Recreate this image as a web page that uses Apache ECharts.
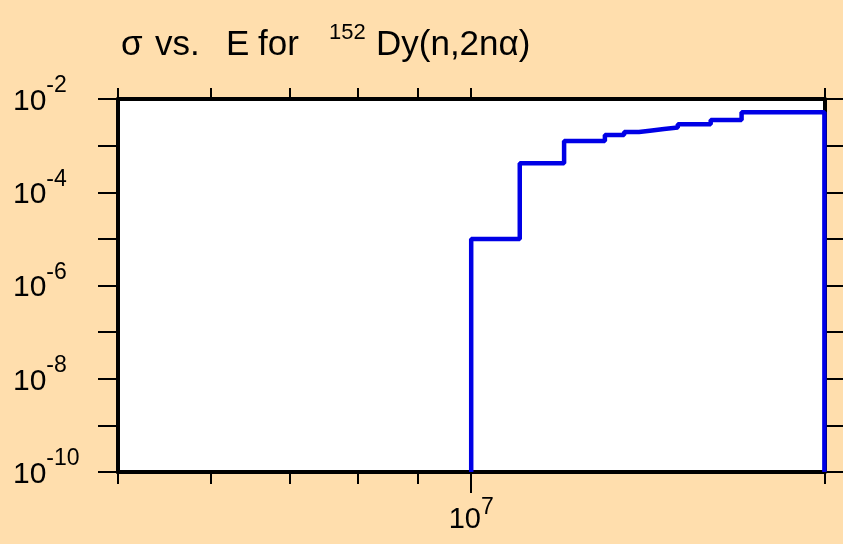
<!DOCTYPE html>
<html>
<head>
<meta charset="utf-8">
<script src="https://cdn.jsdelivr.net/npm/echarts@6/dist/echarts.min.js"></script>
<style>
html,body{margin:0;padding:0;background:#FFDEAD;}
#chart{width:843px;height:544px;}
</style>
</head>
<body>
<div id="chart"></div>
<script>
// Bin edges (eV) and cross sections (b) of the step histogram
const energyEdges = [1.0e7, 1.1e7, 1.2e7, 1.3e7, 1.35e7, 1.39e7, 1.42e7, 1.46e7, 1.5e7, 1.6e7, 1.7e7, 2.0e7];
const sigmaValues = [1.0e-5, 4.2e-4, 1.26e-3, 1.69e-3, 1.95e-3, 2.09e-3, 2.27e-3, 2.44e-3, 2.86e-3, 3.55e-3, 5.2e-3];

// Axis ranges and ticks
const xRange = [5e6, 2e7];
const yRange = [1e-10, 1e-2];
const xMinorTicks = [5e6, 6e6, 7e6, 8e6, 9e6, 2e7];
const xMajorTicks = [1e7];
const yTicks = [1e-10, 1e-9, 1e-8, 1e-7, 1e-6, 1e-5, 1e-4, 1e-3, 1e-2];
const yLabels = [1e-10, 1e-8, 1e-6, 1e-4, 1e-2];

// Title pieces
const titleWords = ['σ ', 'vs. ', 'E ', 'for '];
const titleSup = '152';
const titleTail = 'Dy(n,2nα)';

// Build step path from the arrays
const pts = [[energyEdges[0], yRange[0]]];
for (let i = 0; i < sigmaValues.length; i++) {
  pts.push([energyEdges[i], sigmaValues[i]]);
  pts.push([energyEdges[i + 1], sigmaValues[i]]);
}
pts.push([energyEdges[energyEdges.length - 1], yRange[0]]);

const FONT = "'Liberation Sans', Arial, Helvetica, sans-serif";
const expOf = v => Math.round(Math.log10(v));

const chart = echarts.init(document.getElementById('chart'));
const axisLineStyle = {show: true, lineStyle: {color: '#000', width: 4}};
const wordWidths = [34, 71, 32, 71];
const TFS = 35;
const titleRich = {
  a: {fontFamily: FONT, fontSize: TFS, fontWeight: 'normal', color: '#000', lineHeight: 40},
  s: {fontFamily: FONT, fontSize: 22, fontWeight: 'normal', color: '#000', lineHeight: 22, padding: [0, 0, 24, 0], width: 47}
};
wordWidths.forEach((w, i) => {
  titleRich['w' + i] = {fontFamily: FONT, fontSize: TFS, fontWeight: 'normal', color: '#000', lineHeight: 40, width: w};
});
const titleText = titleWords.map((t, i) => '{w' + i + '|' + t + '}').join('') +
  '{s|' + titleSup + '}{a|' + titleTail + '}';

chart.setOption({
  backgroundColor: '#FFDEAD',
  animation: false,
  title: {
    text: titleText,
    left: 121,
    top: 25,
    padding: 0,
    textStyle: {fontFamily: FONT, fontWeight: 'normal', rich: titleRich}
  },
  grid: {
    left: 118, right: 18.6, top: 99, bottom: 71.7,
    show: true, backgroundColor: '#fff', borderWidth: 0
  },
  xAxis: [
    {
      type: 'log', position: 'bottom', min: xRange[0], max: xRange[1],
      axisLine: axisLineStyle,
      axisTick: {show: true, customValues: xMinorTicks, length: 12, lineStyle: {color: '#000', width: 2}},
      axisLabel: {show: false},
      splitLine: {show: false}
    },
    {
      type: 'log', position: 'bottom', min: xRange[0], max: xRange[1],
      axisLine: axisLineStyle,
      axisTick: {show: true, customValues: xMajorTicks, length: 21, lineStyle: {color: '#000', width: 2}},
      axisLabel: {
        show: true, customValues: xMajorTicks, margin: 33,
        formatter: v => '{b|10}{s|' + expOf(v) + '}',
        rich: {
          b: {fontFamily: FONT, fontSize: 29, color: '#000', lineHeight: 30},
          s: {fontFamily: FONT, fontSize: 23, color: '#000', lineHeight: 24, padding: [0, 0, 25, 0]}
        }
      },
      splitLine: {show: false}
    },
    {
      type: 'log', position: 'top', min: xRange[0], max: xRange[1],
      axisLine: axisLineStyle,
      axisTick: {show: true, customValues: xMinorTicks.concat(xMajorTicks), length: 11, lineStyle: {color: '#000', width: 2}},
      axisLabel: {show: false},
      splitLine: {show: false}
    }
  ],
  yAxis: [
    {
      type: 'log', position: 'left', min: yRange[0], max: yRange[1],
      axisLine: axisLineStyle,
      axisTick: {show: true, customValues: yTicks, length: 20, lineStyle: {color: '#000', width: 2}},
      axisLabel: {
        show: true, customValues: yLabels, align: 'left', margin: 105,
        padding: [5, 0, 0, 0],
        formatter: v => '{b|10}{s|' + expOf(v) + '}',
        rich: {
          b: {fontFamily: FONT, fontSize: 30, color: '#000', lineHeight: 32},
          s: {fontFamily: FONT, fontSize: 23, color: '#000', lineHeight: 23, padding: [0, 0, 31, 0]}
        }
      },
      splitLine: {show: false}
    },
    {
      type: 'log', position: 'right', min: yRange[0], max: yRange[1],
      axisLine: axisLineStyle,
      axisTick: {show: true, customValues: yTicks, length: 20, lineStyle: {color: '#000', width: 2}},
      axisLabel: {show: false},
      splitLine: {show: false}
    }
  ],
  series: [{
    type: 'line',
    xAxisIndex: 0, yAxisIndex: 0,
    data: pts,
    showSymbol: false, symbol: 'none',
    clip: true,
    lineStyle: {color: '#0000E6', width: 4.5},
    z: 5
  }]
});
</script>
</body>
</html>
